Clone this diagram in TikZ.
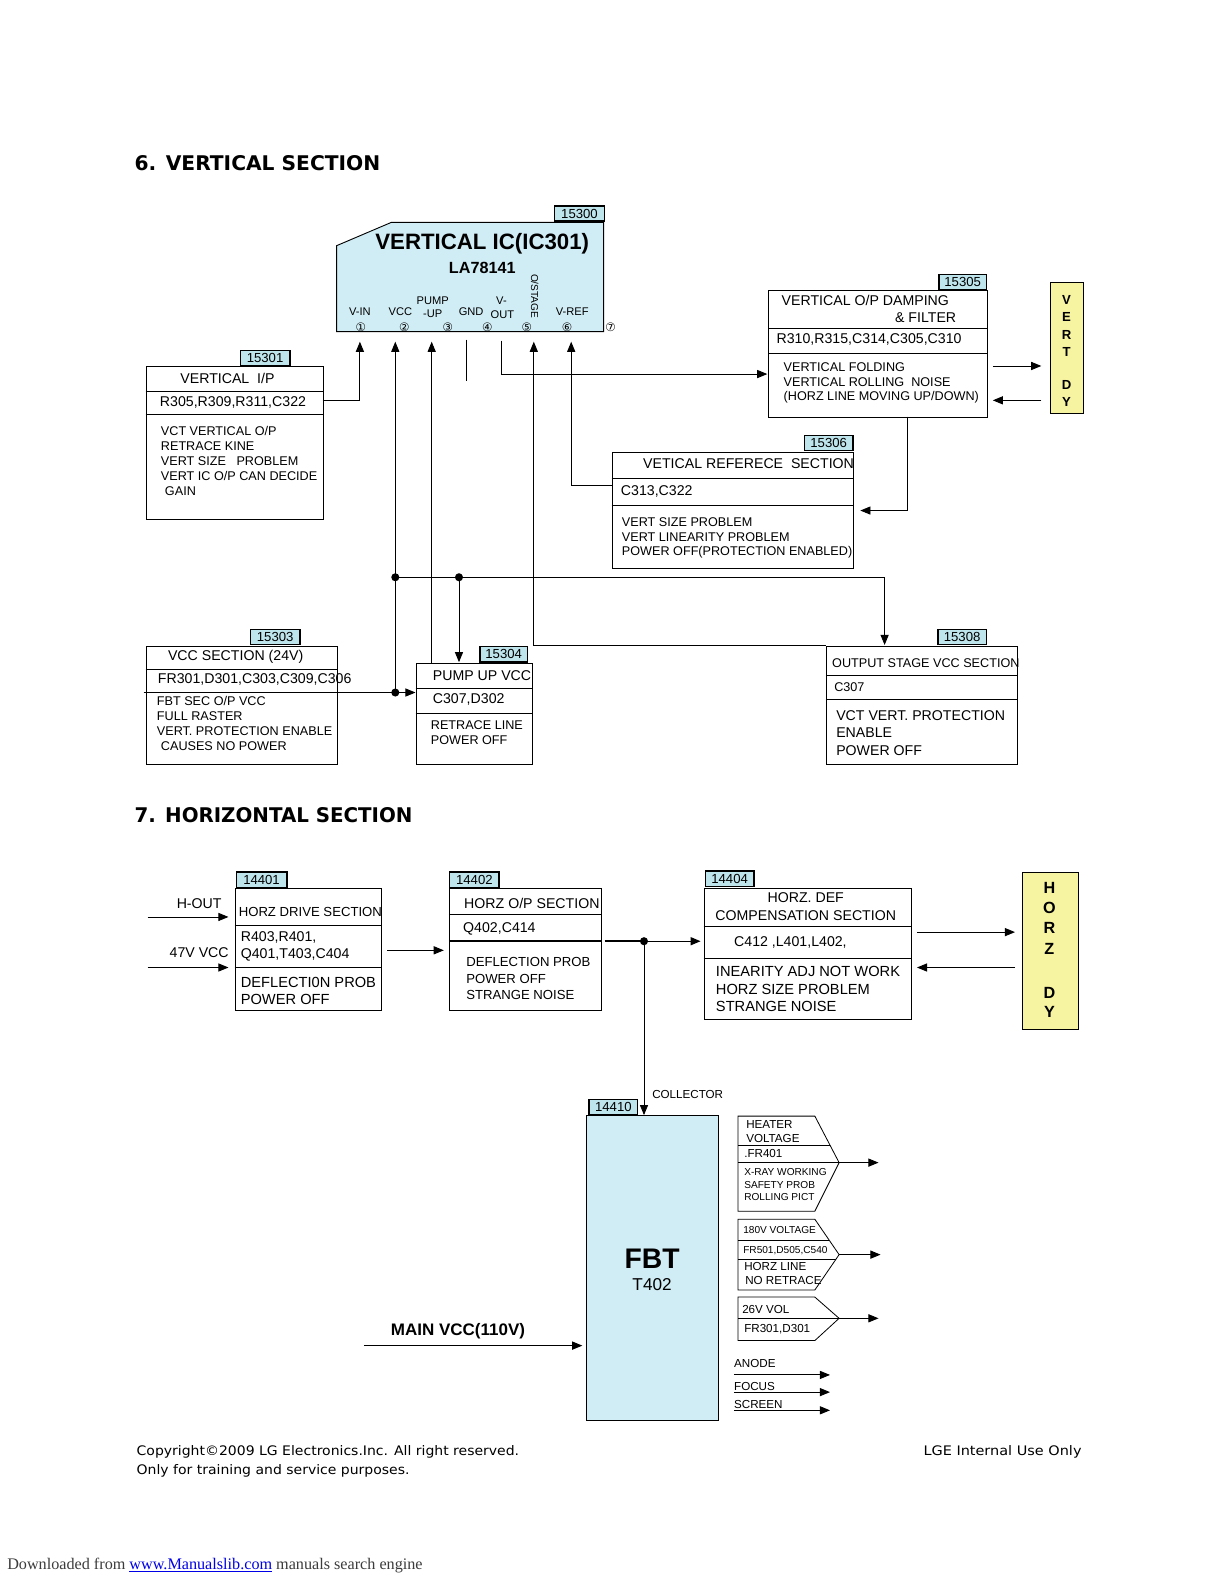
\documentclass[tikz,border=0pt]{standalone}
\usepackage{fontspec}
\usepackage{graphicx}
\setmainfont{Liberation Sans}
\newfontfamily\djv{DejaVu Sans}
\newfontfamily\dlserif{Liberation Serif}
\usetikzlibrary{arrows.meta}
\definecolor{tagblue}{RGB}{190,228,236}
\definecolor{icblue}{RGB}{208,236,244}
\definecolor{dyyellow}{RGB}{246,244,160}
\definecolor{linkblue}{RGB}{0,0,230}
\definecolor{dlgray}{RGB}{60,60,60}
\newcommand{\fs}[1]{\fontsize{#1}{#1}\selectfont}
\tikzset{
 blk/.style={draw, line width=0.9pt, anchor=north west, inner sep=0pt},
 tagbox/.style={draw, line width=1.4pt, fill=tagblue, anchor=north west, inner sep=0pt, minimum height=15pt, font=\fs{13}},
 sepl/.style={line width=0.9pt},
 conn/.style={line width=0.9pt},
 arr/.style={conn, -{Triangle[length=10pt,width=8pt]}},
 lt/.style={anchor=west, inner sep=0pt, font=\fs{14}},
 ls/.style={anchor=west, inner sep=0pt, font=\fs{12.5}},
 ct/.style={inner sep=0pt, font=\fs{14}},
 pinl/.style={inner sep=0pt, font=\fs{11}},
 pinn/.style={inner sep=0pt, font=\djv\fs{11.5}},
 jdot/.style={circle, fill, inner sep=0pt, minimum size=8pt},
 dyl/.style={inner sep=0pt, font=\bfseries\fs{13}},
 hdyl/.style={inner sep=0pt, font=\bfseries\fs{16}},
 pent/.style={line width=0.8pt},
 pt/.style={anchor=west, inner sep=0pt, font=\fs{11.5}},
 pts/.style={anchor=west, inner sep=0pt, font=\fs{10}},
 sect/.style={anchor=west, inner sep=0pt, font=\djv\bfseries\fs{20}},
 foot/.style={inner sep=0pt, font=\djv\fs{13}},
}
\begin{document}
\begin{tikzpicture}[x=1pt,y=-1pt]
\useasboundingbox (0,0) rectangle (1211.7,1567.8);
\fill[white] (0,0) rectangle (1211.7,1567.8);

% ---------------- Section 6 ----------------
\node[sect] (title6) at (133,161) {6. VERTICAL SECTION};

% Vertical IC
\draw[fill=icblue, line width=0.9pt] (333,243) -- (387,220) -- (597,220) -- (597,328) -- (333,328) -- cycle;
\node[tagbox, minimum width=49pt] (t15300) at (548,203) {15300};
\node[inner sep=0pt, font=\bfseries\fs{22}] (ictitle) at (477,241) {VERTICAL IC(IC301)};
\node[inner sep=0pt, font=\bfseries\fs{16}] (icsub) at (477,265) {LA78141};
\node[pinl] (lvin) at (356,308) {V-IN};
\node[pinl] (lvcc) at (396,308) {VCC};
\node[pinl] (lpump) at (428,297) {PUMP};
\node[pinl] (lup) at (428,310) {-UP};
\node[pinl] (lgnd) at (466,308) {GND};
\node[pinl] (lvm) at (496,297) {V-};
\node[pinl] (lout) at (497,311) {OUT};
\node[pinl, rotate=-90, font=\fs{10}] (lostage) at (529,293) {O/STAGE};
\node[pinl] (lvref) at (566,308) {V-REF};
\node[pinn] (n1) at (357,324) {①};
\node[pinn] (n2) at (400,324) {②};
\node[pinn] (n3) at (443,324) {③};
\node[pinn] (n4) at (482,324) {④};
\node[pinn] (n5) at (521,324) {⑤};
\node[pinn] (n6) at (561,324) {⑥};
\node[pinn] (n7) at (604,324) {⑦};
\coordinate (pin1) at (356,338);
\coordinate (pin2) at (391,338);
\coordinate (pin3) at (427,338);
\coordinate (pin4) at (461,336);
\coordinate (pin5v) at (496,337);
\coordinate (pin5) at (528,338);
\coordinate (pin6) at (565,338);

% Box 15301
\node[blk, minimum width=175pt, minimum height=151pt] (b15301) at (144,362) {};
\node[tagbox, minimum width=49pt] (t15301) at (237,346) {15301};
\draw[sepl] (144,387) -- (319,387);
\draw[sepl] (144,410) -- (319,410);
\node[ct] (x1a) at (225,374) {VERTICAL\ \ I/P};
\node[lt] (x1b) at (158,398) {R305,R309,R311,C322};
\node[ls] (x1c) at (159,426) {VCT VERTICAL O/P};
\node[ls] (x1d) at (159,441) {RETRACE KINE};
\node[ls] (x1e) at (159,456) {VERT SIZE\ \ \ PROBLEM};
\node[ls] (x1f) at (159,471) {VERT IC O/P CAN DECIDE};
\node[ls] (x1g) at (163,486) {GAIN};

% Box 15305
\node[blk, minimum width=216pt, minimum height=125pt] (b15305) at (760,287) {};
\node[tagbox, minimum width=47pt] (t15305) at (928,271) {15305};
\draw[sepl] (760,325) -- (976,325);
\draw[sepl] (760,350) -- (976,350);
\node[lt] (x5a) at (773,297) {VERTICAL O/P DAMPING};
\node[anchor=east, inner sep=0pt, font=\fs{14}] (x5b) at (946,314) {\& FILTER};
\node[lt] (x5c) at (768,336) {R310,R315,C314,C305,C310};
\node[ls] (x5d) at (775,363) {VERTICAL FOLDING};
\node[ls] (x5e) at (775,378) {VERTICAL ROLLING\ \ NOISE};
\node[ls] (x5f) at (775,393) {(HORZ LINE MOVING UP/DOWN)};

% VERT DY
\node[blk, fill=dyyellow, minimum width=32pt, minimum height=130pt] (vdy) at (1039,279) {};
\node[dyl] at (1055,297) {V};
\node[dyl] at (1055,314) {E};
\node[dyl] at (1055,331) {R};
\node[dyl] at (1055,348) {T};
\node[dyl] at (1055,381) {D};
\node[dyl] at (1055,398) {Y};

% Box 15306
\node[blk, minimum width=239pt, minimum height=115pt] (b15306) at (605,447) {};
\node[tagbox, minimum width=48pt] (t15306) at (795,430) {15306};
\draw[sepl] (605,473) -- (844,473);
\draw[sepl] (605,500) -- (844,500);
\node[lt] (x6a) at (636,459) {VETICAL REFERECE\ \ SECTION};
\node[lt] (x6b) at (614,486) {C313,C322};
\node[ls] (x6c) at (615,516) {VERT SIZE PROBLEM};
\node[ls] (x6d) at (615,531) {VERT LINEARITY PROBLEM};
\node[ls] (x6e) at (615,546) {POWER OFF(PROTECTION ENABLED)};

% Box 15303
\node[blk, minimum width=189pt, minimum height=117pt] (b15303) at (144,639) {};
\node[tagbox, minimum width=49pt] (t15303) at (247,622) {15303};
\draw[sepl] (144,662) -- (333,662);
\draw[sepl] (142,685) -- (333,685);
\node[lt] (x3a) at (166,650) {VCC SECTION (24V)};
\node[lt] (x3b) at (156,672) {FR301,D301,C303,C309,C306};
\node[ls] (x3c) at (155,693) {FBT SEC O/P VCC};
\node[ls] (x3d) at (155,708) {FULL RASTER};
\node[ls] (x3e) at (155,723) {VERT. PROTECTION ENABLE};
\node[ls] (x3f) at (159,738) {CAUSES NO POWER};

% Box 15304
\node[blk, minimum width=115pt, minimum height=100pt] (b15304) at (411,656) {};
\node[tagbox, minimum width=47pt] (t15304) at (474,639) {15304};
\draw[sepl] (411,681) -- (526,681);
\draw[sepl] (411,706) -- (526,706);
\node[lt] (x4a) at (428,668) {PUMP UP VCC};
\node[lt] (x4b) at (428,692) {C307,D302};
\node[ls] (x4c) at (426,717) {RETRACE LINE};
\node[ls] (x4d) at (426,732) {POWER OFF};

% Box 15308
\node[blk, minimum width=189pt, minimum height=117pt] (b15308) at (817,639) {};
\node[tagbox, minimum width=48pt] (t15308) at (927,622) {15308};
\draw[sepl] (817,668) -- (1006,668);
\draw[sepl] (817,692) -- (1006,692);
\node[ls] (x8a) at (823,656) {OUTPUT STAGE VCC SECTION};
\node[ls] (x8b) at (825,680) {C307};
\node[lt] (x8c) at (827,708) {VCT VERT. PROTECTION};
\node[lt] (x8d) at (827,725) {ENABLE};
\node[lt] (x8e) at (827,742) {POWER OFF};

% Connectors section 6
\coordinate (vin0) at (319,396);
\draw[arr] (vin0) -| (pin1);
\node[jdot] (j1) at (391,685) {};
\node[jdot] (j2) at (391,571) {};
\node[jdot] (j3) at (454,571) {};
\draw[arr] (j1.center) -- (pin2);
\coordinate (pu0) at (427,656);
\draw[arr] (pu0) -- (pin3);
\draw[conn] (pin4) -- (461,377);
\coordinate (vo1) at (759,370);
\draw[arr] (pin5v) |- (vo1);
\coordinate (os0) at (817,638);
\draw[arr] (os0) -| (pin5);
\coordinate (vr0) at (605,480);
\draw[arr] (vr0) -| (pin6);
\draw[arr] (982,362) -- (1030,362);
\draw[arr] (1030,396) -- (982,396);
\coordinate (d0) at (898,412);
\coordinate (d1) at (851,505);
\draw[arr] (d0) |- (d1);
\coordinate (jr) at (875,571);
\draw[conn] (j2.center) -- (jr);
\draw[arr] (jr) -- (875,638);
\draw[arr] (j3.center) -- (454,655);
\coordinate (c3) at (333,685);
\draw[arr] (c3) -- (411,685);

% ---------------- Section 7 ----------------
\node[sect] (title7) at (133,806) {\scalebox{0.98}[1]{7. HORIZONTAL SECTION}};

% Box 14401
\node[blk, minimum width=145pt, minimum height=121pt] (b14401) at (232,878) {};
\node[tagbox, minimum width=50pt] (t14401) at (233,862) {14401};
\draw[sepl] (232,915) -- (377,915);
\draw[sepl] (232,957) -- (377,957);
\node[ls, font=\fs{13}] (y1a) at (236,902) {HORZ DRIVE SECTION};
\node[lt] (y1b) at (238,927) {R403,R401,};
\node[lt] (y1c) at (238,945) {Q401,T403,C404};
\node[lt, font=\fs{14.5}] (y1d) at (238,972) {DEFLECTI0N PROB};
\node[lt, font=\fs{14.5}] (y1e) at (238,989) {POWER OFF};
\node[ct] (hout) at (197,894) {H-OUT};
\node[ct] (v47) at (197,942) {47V VCC};
\draw[arr] (146,907) -- (226,907);
\draw[arr] (146,957) -- (226,957);

% Box 14402
\node[blk, minimum width=150pt, minimum height=121pt] (b14402) at (444,878) {};
\node[tagbox, minimum width=49pt] (t14402) at (444,862) {14402};
\draw[sepl] (444,905) -- (594,905);
\draw[line width=1.6pt] (444,931) -- (594,931);
\node[lt] (y2a) at (459,894) {HORZ O/P SECTION};
\node[lt] (y2b) at (458,919) {Q402,C414};
\node[ls, font=\fs{13}] (y2c) at (461,952) {DEFLECTION PROB};
\node[ls, font=\fs{13}] (y2d) at (461,968) {POWER OFF};
\node[ls, font=\fs{13}] (y2e) at (461,984) {STRANGE NOISE};
\draw[arr] (383,940) -- (439,940);

% Box 14404
\node[blk, minimum width=205pt, minimum height=130pt] (b14404) at (696,878) {};
\node[tagbox, minimum width=48pt] (t14404) at (697,861) {14404};
\draw[sepl] (696,916) -- (901,916);
\draw[sepl] (696,948) -- (901,948);
\node[ct] (y4a) at (797,888) {HORZ. DEF};
\node[ct] (y4b) at (797,906) {COMPENSATION SECTION};
\node[lt] (y4c) at (726,932) {C412 ,L401,L402,};
\node[lt, font=\fs{14.5}] (y4d) at (708,961) {INEARITY ADJ NOT WORK};
\node[lt, font=\fs{14.5}] (y4e) at (708,979) {HORZ SIZE PROBLEM};
\node[lt, font=\fs{14.5}] (y4f) at (708,996) {STRANGE NOISE};

% HORZ DY
\node[blk, fill=dyyellow, minimum width=55pt, minimum height=155pt] (hdy) at (1011,863) {};
\node[hdyl] at (1038,878) {H};
\node[hdyl] at (1038,898) {O};
\node[hdyl] at (1038,918) {R};
\node[hdyl] at (1038,939) {Z};
\node[hdyl] at (1038,982) {D};
\node[hdyl] at (1038,1001) {Y};
\draw[arr] (907,922) -- (1004,922);
\draw[arr] (1004,957) -- (907,957);

% junction to FBT
\node[jdot] (j4) at (637,931) {};
\draw[line width=1.6pt] (598,931) -- (j4.center);
\draw[arr, line width=1.4pt] (j4.center) -- (693,931);
\draw[arr] (j4.center) -- (637,1103);
\node[pinl, anchor=west, font=\fs{11.5}] (coll) at (645,1083) {COLLECTOR};

% FBT
\node[blk, fill=icblue, minimum width=130pt, minimum height=302pt] (fbt) at (580,1103) {};
\node[tagbox, minimum width=48pt] (t14410) at (582,1087) {14410};
\node[inner sep=0pt, font=\bfseries\fs{28}] (fbtt) at (645,1245) {FBT};
\node[inner sep=0pt, font=\fs{17}] (fbts) at (645,1271) {T402};

\node[inner sep=0pt, font=\bfseries\fs{16.5}] (mvcc) at (453,1317) {\scalebox{1.02}[1]{MAIN VCC(110V)}};
\draw[arr] (360,1331) -- (576,1331);

% pentagon A
\draw[pent] (730,1104) -- (806,1104) -- (830,1150) -- (806,1198) -- (730,1198) -- cycle;
\draw[pent] (730,1133) -- (821,1133);
\draw[pent] (730,1150) -- (830,1150);
\node[pt] (pa1) at (738,1112) {HEATER};
\node[pt] (pa2) at (738,1126) {VOLTAGE};
\node[pt] (pa3) at (736,1141) {.FR401};
\node[pts] (pa4) at (736,1159) {X-RAY WORKING};
\node[pts] (pa5) at (736,1172) {SAFETY PROB};
\node[pts] (pa6) at (736,1184) {ROLLING PICT};
\coordinate (tipa) at (830,1150);
\draw[arr] (tipa) -- (869,1150);

% pentagon B
\draw[pent] (730,1206) -- (806,1206) -- (830,1241) -- (806,1276) -- (730,1276) -- cycle;
\draw[pent] (730,1227) -- (820,1227);
\draw[pent] (730,1246) -- (827,1246);
\node[pts] (pb1) at (735,1217) {180V VOLTAGE};
\node[pts] (pb2) at (735,1237) {FR501,D505,C540};
\node[pt] (pb3) at (736,1253) {HORZ LINE};
\node[pt] (pb4) at (737,1267) {NO RETRACE};
\coordinate (tipb) at (830,1241);
\draw[arr] (tipb) -- (871,1241);

% pentagon C
\draw[pent] (730,1283) -- (806,1283) -- (830,1304) -- (806,1326) -- (730,1326) -- cycle;
\draw[pent] (730,1304) -- (830,1304);
\node[pt] (pc1) at (734,1295) {26V VOL};
\node[pt] (pc2) at (736,1315) {FR301,D301};
\coordinate (tipc) at (830,1304);
\draw[arr] (tipc) -- (869,1304);

% anode/focus/screen
\node[pt] (an) at (726,1349) {ANODE};
\node[pt] (fo) at (726,1371) {FOCUS};
\node[pt] (sc) at (726,1389) {SCREEN};
\draw[arr] (726,1360) -- (821,1360);
\draw[arr] (726,1377) -- (821,1377);
\draw[arr] (726,1395) -- (821,1395);

% footer
\node[foot, anchor=west] (f1) at (135,1436) {\scalebox{1.065}[1]{Copyright©2009 LG Electronics.Inc. All right reserved.}};
\node[foot, anchor=west] (f2) at (135,1455) {\scalebox{1.065}[1]{Only for training and service purposes.}};
\node[foot, anchor=east] (f3) at (1070,1436) {\scalebox{1.1}[1]{LGE Internal Use Only}};
\node[anchor=west, inner sep=0pt, font=\dlserif\fs{16}, text=dlgray] (dl) at (7,1549) {Downloaded from \textcolor{linkblue}{\underline{www.Manualslib.com}} manuals search engine};
\end{tikzpicture}
\end{document}
